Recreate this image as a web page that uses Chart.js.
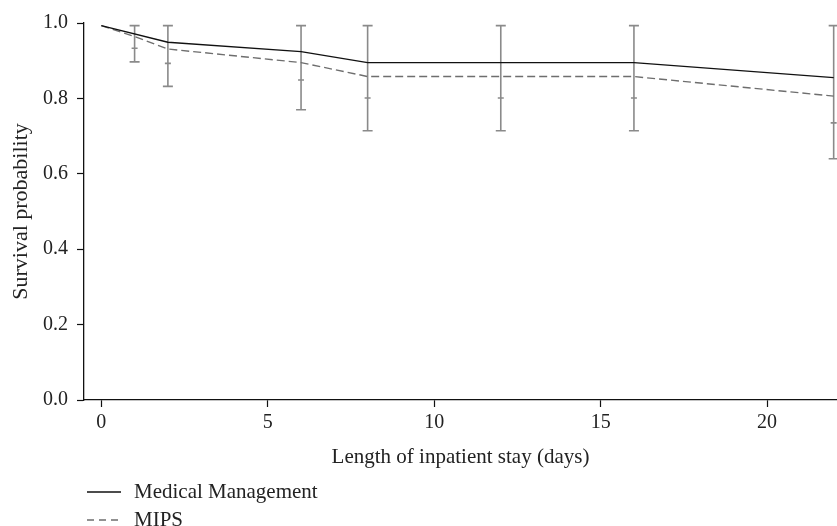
<!DOCTYPE html>
<html>
<head>
<meta charset="utf-8">
<script src="https://cdn.jsdelivr.net/npm/chart.js@4.4.1/dist/chart.umd.min.js"></script>
<style>
  html, body { margin: 0; padding: 0; background: #ffffff; }
  #wrap { width: 837px; height: 526px; position: relative; }
</style>
</head>
<body>
<div id="wrap"><canvas id="c"></canvas></div>
<script>
// ---- data ----
const medDays = [0, 2, 6, 8, 12, 16, 22];
const medSurvival = [0.993, 0.949, 0.924, 0.895, 0.895, 0.895, 0.855];
const mipsDays = [0, 1, 2, 6, 8, 12, 16, 22];
const mipsSurvival = [0.993, 0.964, 0.931, 0.895, 0.858, 0.858, 0.858, 0.806];
const errDays = [1, 2, 6, 8, 12, 16, 22];
const errUpper = [0.993, 0.993, 0.993, 0.993, 0.993, 0.993, 0.993];
const mipsLower = [0.897, 0.832, 0.770, 0.714, 0.714, 0.714, 0.640];
const medLower = [0.933, 0.893, 0.849, 0.801, 0.801, 0.801, 0.735];
const xTicks = [0, 5, 10, 15, 20];
const yTicks = [0, 0.2, 0.4, 0.6, 0.8, 1.0];
const seriesNames = ['Medical Management', 'MIPS'];
const xTitle = 'Length of inpatient stay (days)';
const yTitle = 'Survival probability';

const FONT = '"Liberation Serif", "DejaVu Serif", serif';
const TICK_SIZE = 20;
const TITLE_SIZE = 21;

const errorBars = {
  id: 'errorBars',
  beforeDatasetsDraw(chart) {
    const {ctx, scales: {x, y}} = chart;
    ctx.save();
    ctx.strokeStyle = '#8a8a8a';
    ctx.lineWidth = 1.6;
    errDays.forEach((d, i) => {
      const px = x.getPixelForValue(d);
      const yt = y.getPixelForValue(errUpper[i]);
      const yb = y.getPixelForValue(mipsLower[i]);
      const ym = y.getPixelForValue(medLower[i]);
      ctx.beginPath();
      ctx.moveTo(px, yt); ctx.lineTo(px, yb);
      ctx.moveTo(px - 5, yt); ctx.lineTo(px + 5, yt);
      ctx.moveTo(px - 5, yb); ctx.lineTo(px + 5, yb);
      ctx.moveTo(px - 3, ym); ctx.lineTo(px + 3, ym);
      ctx.stroke();
    });
    ctx.restore();
  }
};

const legendPlugin = {
  id: 'customLegend',
  afterDraw(chart) {
    const {ctx} = chart;
    ctx.save();
    ctx.font = TITLE_SIZE + 'px ' + FONT;
    ctx.fillStyle = '#222';
    ctx.textBaseline = 'middle';
    chart.data.datasets.forEach((ds, i) => {
      const yy = 492 + i * 28;
      ctx.beginPath();
      ctx.strokeStyle = ds.borderColor;
      ctx.lineWidth = ds.borderWidth;
      ctx.setLineDash(i === 0 ? [] : [7, 5]);
      ctx.moveTo(87, yy); ctx.lineTo(121, yy);
      ctx.stroke();
      ctx.setLineDash([]);
      ctx.fillText(ds.label, 134, yy);
    });
    ctx.restore();
  }
};

new Chart(document.getElementById('c'), {
  type: 'line',
  data: {
    datasets: [
      {
        label: seriesNames[0],
        data: medDays.map((d, i) => ({x: d, y: medSurvival[i]})),
        borderColor: '#111111',
        borderWidth: 1.4,
        pointRadius: 0,
        tension: 0,
        fill: false
      },
      {
        label: seriesNames[1],
        data: mipsDays.map((d, i) => ({x: d, y: mipsSurvival[i]})),
        borderColor: '#6e6e6e',
        borderWidth: 1.4,
        borderDash: [8, 4],
        pointRadius: 0,
        tension: 0,
        fill: false
      }
    ]
  },
  options: {
    responsive: true,
    maintainAspectRatio: false,
    animation: false,
    layout: { padding: { top: 23, right: 0, bottom: 56, left: 0 } },
    plugins: { legend: { display: false }, tooltip: { enabled: false } },
    scales: {
      x: {
        type: 'linear',
        min: -0.52,
        max: 22.1,
        afterBuildTicks: s => { s.ticks = xTicks.map(v => ({value: v})); },
        afterFit: s => { s.height = 70; },
        grid: { drawOnChartArea: false, drawTicks: true, tickLength: 7, tickColor: '#111', tickWidth: 1.2 },
        border: { display: true, color: '#111', width: 1.3 },
        ticks: { color: '#222', font: { family: FONT, size: TICK_SIZE }, padding: 4, maxRotation: 0,
                 callback: v => String(v) },
        title: { display: true, text: xTitle, color: '#222', font: { family: FONT, size: TITLE_SIZE }, padding: { top: 5, bottom: 0 } }
      },
      y: {
        type: 'linear',
        min: 0,
        max: 1,
        afterBuildTicks: s => { s.ticks = yTicks.map(v => ({value: v})); },
        afterFit: s => { s.width = 84; },
        grid: { drawOnChartArea: false, drawTicks: true, tickLength: 7, tickColor: '#111', tickWidth: 1.2 },
        border: { display: true, color: '#111', width: 1.3 },
        ticks: { color: '#222', font: { family: FONT, size: TICK_SIZE }, padding: 9,
                 callback: v => Number(v).toFixed(1) },
        title: { display: true, text: yTitle, color: '#222', font: { family: FONT, size: 22 }, padding: { top: 8, bottom: 0 } }
      }
    }
  },
  plugins: [errorBars, legendPlugin]
});
</script>
</body>
</html>
